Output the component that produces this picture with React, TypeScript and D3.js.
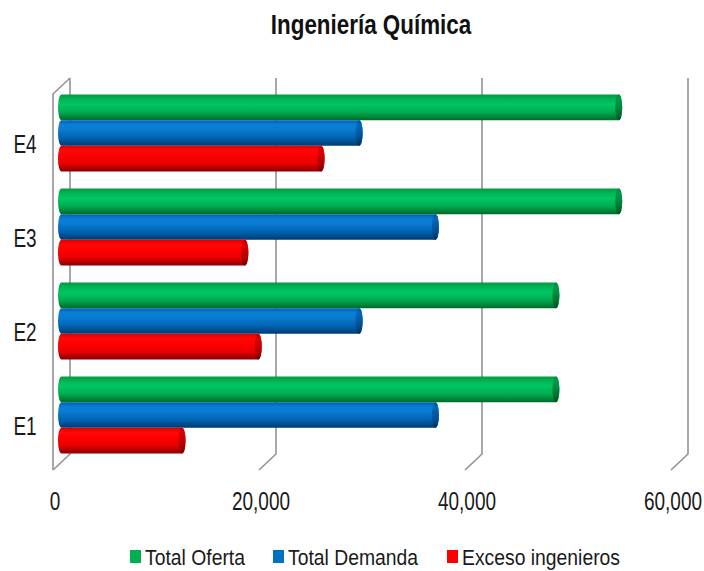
import React, { useEffect, useRef } from "react";
import * as d3 from "d3";

// data
const categories = ["E1", "E2", "E3", "E4"];
const totalOferta = [48000, 48000, 54100, 54100];
const totalDemanda = [36300, 28900, 36300, 28900];
const excesoIngenieros = [11700, 19100, 17800, 25200];
const xTicks = [0, 20000, 40000, 60000];
const seriesNames = ["Total Oferta", "Total Demanda", "Exceso ingenieros"];
const seriesValues = [totalOferta, totalDemanda, excesoIngenieros];
const seriesKeys = ["green", "blue", "red"];

const width = 704;
const height = 571;
const back = { left: 70, right: 688, top: 78, bottom: 454 };
const depth = { dx: -17, dy: 16 }; // back plane -> front plane
const font = "'Liberation Sans', Arial, sans-serif";

// body gradient stops (top -> bottom) and darker cap colours
const bodyStops: Record<string, string[]> = {
  green: ["#009a44", "#00b455", "#00c663", "#00ad4e", "#006a2c"],
  blue: ["#0060ad", "#0a7fd6", "#0a7ad2", "#0064b2", "#003a72"],
  red: ["#dd0000", "#ff0808", "#ff0000", "#ea0000", "#8a0000"],
};
const capStops: Record<string, string[]> = {
  green: ["#008a3c", "#009a46", "#008f40", "#007634", "#005522"],
  blue: ["#00559a", "#0068b8", "#005eaa", "#004f90", "#00305e"],
  red: ["#c00000", "#d80000", "#cc0000", "#b00000", "#700000"],
};
const legendColors: Record<string, string> = {
  green: "#00b050",
  blue: "#0070c0",
  red: "#ff0000",
};
const legendX = [130, 273, 447];

export default function App() {
  const ref = useRef<SVGSVGElement>(null);

  useEffect(() => {
    const svg = d3.select(ref.current);
    svg.selectAll("*").remove();

    const xBack = d3.scaleLinear().domain([0, 60000]).range([back.left, back.right]);
    const yBack = d3
      .scaleBand()
      .domain([...categories].reverse())
      .range([back.top, back.bottom]);
    const yInner = d3
      .scaleBand()
      .domain(seriesNames)
      .range([0, yBack.bandwidth()])
      .paddingInner(0)
      .paddingOuter(0.33);
    // bars sit half way between back and front planes
    const midDx = depth.dx / 2;
    const midDy = depth.dy / 2;

    const defs = svg.append("defs");
    const offsets = [0, 0.18, 0.38, 0.68, 1];
    seriesKeys.forEach((k) => {
      [
        ["body-" + k, bodyStops[k]],
        ["cap-" + k, capStops[k]],
      ].forEach(([id, stops]) => {
        const g = defs
          .append("linearGradient")
          .attr("id", id as string)
          .attr("x1", 0)
          .attr("y1", 0)
          .attr("x2", 0)
          .attr("y2", 1);
        (stops as string[]).forEach((c, i) =>
          g.append("stop").attr("offset", offsets[i]).attr("stop-color", c)
        );
      });
    });

    // title
    svg
      .append("text")
      .attr("transform", `translate(371,34) scale(0.8,1)`)
      .attr("text-anchor", "middle")
      .attr("font-family", font)
      .attr("font-weight", "bold")
      .attr("font-size", 28)
      .attr("fill", "#111")
      .text("Ingeniería Química");

    // grid / walls
    const grid = svg.append("g").attr("stroke", "#939393").attr("stroke-width", 1.6).attr("fill", "none");
    xTicks.forEach((t) => {
      const x = xBack(t);
      grid
        .append("path")
        .attr("d", `M${x},${back.top}V${back.bottom}L${x + depth.dx},${back.bottom + depth.dy}`);
    });
    // left side wall
    const x0 = xBack(0);
    grid
      .append("path")
      .attr(
        "d",
        `M${x0},${back.top}L${x0 + depth.dx},${back.top + depth.dy}V${back.bottom + depth.dy}`
      );

    // cylinders
    const rx = 3.5;
    categories.forEach((cat, ci) => {
      seriesNames.forEach((s, si) => {
        const k = seriesKeys[si];
        const v = seriesValues[si][ci];
        const y = (yBack(cat) as number) + midDy + (yInner(s) as number);
        const h = yInner.bandwidth();
        const xa = xBack(0) + midDx;
        const xb = xBack(v) + midDx;
        const g = svg.append("g");
        g.append("path")
          .attr(
            "d",
            `M${xa},${y}H${xb}A${rx},${h / 2} 0 0 1 ${xb},${y + h}H${xa}A${rx},${h / 2} 0 0 1 ${xa},${y}Z`
          )
          .attr("fill", `url(#body-${k})`);
        g.append("ellipse")
          .attr("cx", xb)
          .attr("cy", y + h / 2)
          .attr("rx", rx)
          .attr("ry", h / 2)
          .attr("fill", `url(#cap-${k})`);
      });
    });

    // category labels
    categories.forEach((cat) => {
      const cy = (yBack(cat) as number) + midDy + yBack.bandwidth() / 2;
      svg
        .append("text")
        .attr("transform", `translate(25,${cy + 20}) scale(0.76,1)`)
        .attr("text-anchor", "middle")
        .attr("font-family", font)
        .attr("font-size", 25)
        .attr("fill", "#1a1a1a")
        .text(cat);
    });

    // x tick labels (front plane)
    const fmt = d3.format(",");
    xTicks.forEach((t) => {
      svg
        .append("text")
        .attr("transform", `translate(${xBack(t) + depth.dx + 2},510) scale(0.76,1)`)
        .attr("text-anchor", "middle")
        .attr("font-family", font)
        .attr("font-size", 25)
        .attr("fill", "#1a1a1a")
        .text(fmt(t));
    });

    // legend
    seriesNames.forEach((s, i) => {
      const lx = legendX[i];
      svg
        .append("rect")
        .attr("x", lx)
        .attr("y", 550)
        .attr("width", 11)
        .attr("height", 13)
        .attr("fill", legendColors[seriesKeys[i]]);
      svg
        .append("text")
        .attr("transform", `translate(${lx + 15},565) scale(0.86,1)`)
        .attr("font-family", font)
        .attr("font-size", 22.5)
        .attr("fill", "#1a1a1a")
        .text(s);
    });
  }, []);

  return (
    <svg
      ref={ref}
      width={width}
      height={height}
      style={{ position: "absolute", left: 0, top: 0, background: "#fff" }}
    />
  );
}
